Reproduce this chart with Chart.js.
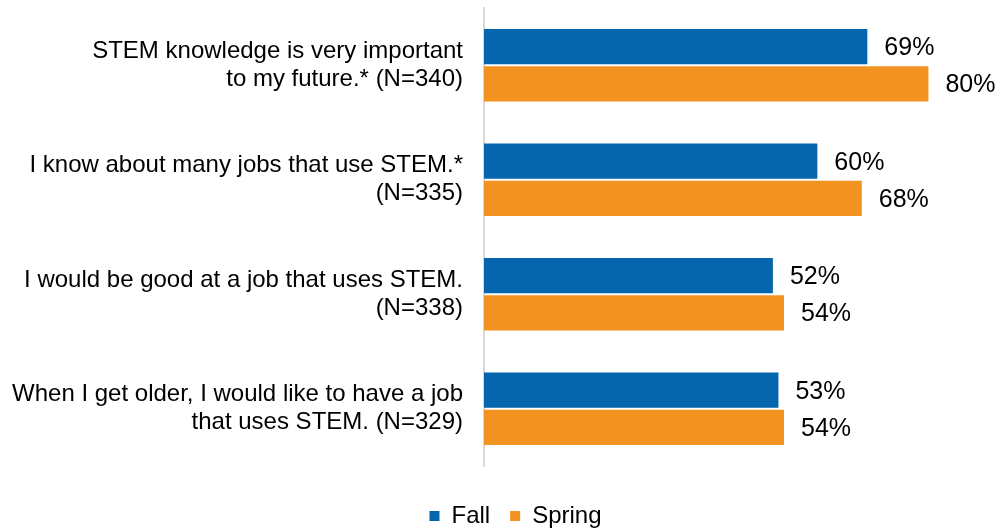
<!DOCTYPE html>
<html>
<head>
<meta charset="utf-8">
<script src="https://cdn.jsdelivr.net/npm/chart.js@4.4.1/dist/chart.umd.min.js"></script>
<style>
  html, body { margin: 0; padding: 0; background: #ffffff; }
  #wrap { width: 1003px; height: 531px; position: relative; }
</style>
</head>
<body>
<div id="wrap"><canvas id="c"></canvas></div>
<script>
const categories = [
  ['STEM knowledge is very important', 'to my future.* (N=340)'],
  ['I know about many jobs that use STEM.*', '(N=335)'],
  ['I would be good at a job that uses STEM.', '(N=338)'],
  ['When I get older, I would like to have a job', 'that uses STEM. (N=329)']
];
const fallValues = [69, 60, 52, 53];
const springValues = [80, 68, 54, 54];
const seriesNames = ['Fall', 'Spring'];

const FONT = "'Liberation Sans', Arial, sans-serif";
Chart.defaults.font.family = FONT;
Chart.defaults.color = '#000000';

const valueLabels = {
  id: 'valueLabels',
  afterDatasetsDraw(chart) {
    const ctx = chart.ctx;
    ctx.save();
    ctx.font = '25px ' + FONT;
    ctx.fillStyle = '#000000';
    ctx.textAlign = 'left';
    ctx.textBaseline = 'middle';
    chart.data.datasets.forEach((ds, di) => {
      const meta = chart.getDatasetMeta(di);
      meta.data.forEach((bar, i) => {
        ctx.fillText(ds.data[i] + '%', bar.x + 17, bar.y + 1.5);
      });
    });
    ctx.restore();
  }
};

const legendShift = {
  id: 'legendShift',
  afterLayout(chart) {
    if (chart.legend) { chart.legend.left += 47; }
  }
};

new Chart(document.getElementById('c'), {
  type: 'bar',
  data: {
    labels: categories,
    datasets: [
      { label: seriesNames[0], data: fallValues, backgroundColor: '#0565AD',
        categoryPercentage: 0.65, barPercentage: 0.95 },
      { label: seriesNames[1], data: springValues, backgroundColor: '#F29220',
        categoryPercentage: 0.65, barPercentage: 0.95 }
    ]
  },
  options: {
    indexAxis: 'y',
    responsive: true,
    maintainAspectRatio: false,
    animation: false,
    layout: { padding: { top: 8, right: 19, left: 0, bottom: 0 } },
    scales: {
      x: {
        min: 0, max: 90,
        grid: { display: false, drawTicks: false },
        border: { display: false },
        ticks: { display: false },
        afterFit(scale) { scale.height = 18; }
      },
      y: {
        grid: { display: false, drawTicks: false },
        border: { display: true, color: '#d9d9d9', width: 2 },
        ticks: {
          padding: 21,
          color: '#000000',
          font: { size: 24, lineHeight: 1.17 }
        },
        afterFit(scale) {
          scale.width = 484;
          scale.paddingTop = 0;
          scale.paddingBottom = 0;
        }
      }
    },
    plugins: {
      legend: {
        position: 'bottom',
        maxHeight: 47,
        labels: {
          boxWidth: 10,
          boxHeight: 10,
          padding: 20,
          color: '#000000',
          font: { size: 24, lineHeight: 1 }
        }
      },
      tooltip: { enabled: false }
    }
  },
  plugins: [valueLabels, legendShift]
});
</script>
</body>
</html>
